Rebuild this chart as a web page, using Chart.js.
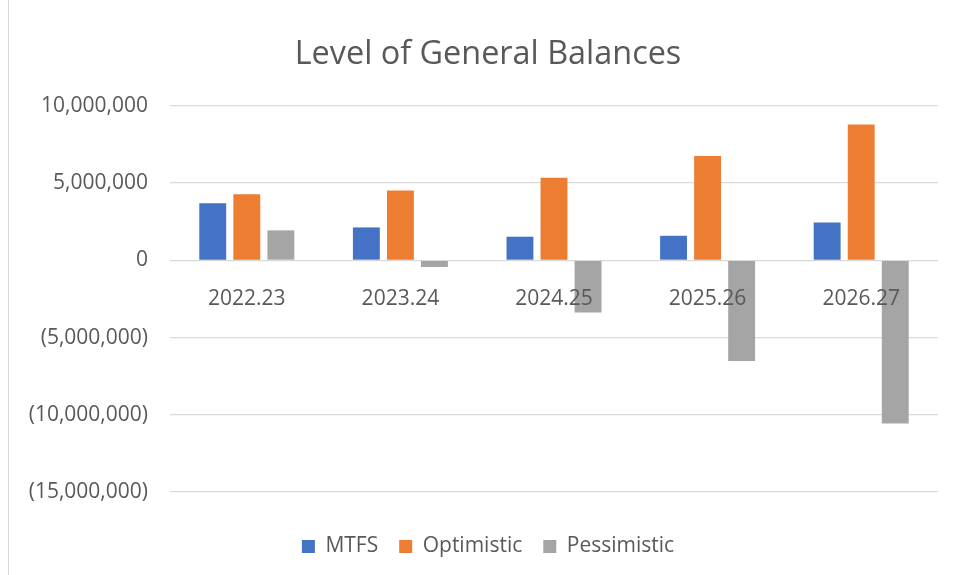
<!DOCTYPE html>
<html>
<head>
<meta charset="utf-8">
<script src="https://cdn.jsdelivr.net/npm/chart.js@4"></script>
<style>
  html, body { margin: 0; padding: 0; background: #fff; overflow: hidden; }
  #wrap { position: relative; width: 954px; height: 575px; overflow: hidden; }
  #edge { position: absolute; left: 8px; top: 0; width: 1px; height: 575px; background: #d9d9d9; }
</style>
</head>
<body>
<div id="wrap">
  <canvas id="balanceChart" width="956" height="575"></canvas>
  <div id="edge"></div>
</div>
<script>
// --- DATA ---
const categories = ['2022.23', '2023.24', '2024.25', '2025.26', '2026.27'];
const mtfsValues = [3700000, 2130000, 1530000, 1590000, 2450000];
const optimisticValues = [4280000, 4520000, 5350000, 6750000, 8800000];
const pessimisticValues = [1940000, -430000, -3380000, -6520000, -10560000];
const yTicks = [10000000, 5000000, 0, -5000000, -10000000, -15000000];

const textColor = '#595959';
const fontFamily = "'Open Sans', sans-serif";

// Excel style: 5,000,000 / (5,000,000)
function formatNumber(v) {
    const s = Math.abs(v).toLocaleString('en-US');
    return v < 0 ? '(' + s + ')' : s;
}

const ctx = document.getElementById('balanceChart');
new Chart(ctx, {
    type: 'bar',
    data: {
        labels: categories,
        datasets: [
            { label: 'MTFS', data: mtfsValues, backgroundColor: '#4472C4' },
            { label: 'Optimistic', data: optimisticValues, backgroundColor: '#ED7D31' },
            { label: 'Pessimistic', data: pessimisticValues, backgroundColor: '#A5A5A5' }
        ]
    },
    options: {
        responsive: false,
        animation: false,
        datasets: { bar: { categoryPercentage: 0.665, barPercentage: 0.79 } },
        layout: { padding: { left: 20, right: 0, top: 0, bottom: 8 } },
        plugins: {
            title: {
                display: true,
                text: 'Level of General Balances',
                color: textColor,
                font: { family: fontFamily, size: 32.4, weight: 'normal' },
                padding: { top: 35, bottom: 32 }
            },
            legend: {
                position: 'bottom',
                title: { display: true, text: '', font: { size: 10 }, padding: 5.5 },
                labels: {
                    color: textColor,
                    boxWidth: 13,
                    boxHeight: 13,
                    padding: 21,
                    font: { family: fontFamily, size: 21 }
                }
            },
            tooltip: { enabled: false }
        },
        scales: {
            x: {
                position: { y: 0 },
                grid: { display: false },
                border: { display: false },
                ticks: { z: 1, color: textColor, padding: 18, font: { family: fontFamily, size: 21 } }
            },
            y: {
                min: -15000000,
                max: 10000000,
                afterFit: function(scale) { scale.width = 150; },
                afterBuildTicks: function(scale) { scale.ticks = yTicks.map(v => ({ value: v })); },
                grid: { color: '#d9d9d9', lineWidth: 1.3, drawTicks: false },
                border: { display: false },
                ticks: {
                    color: textColor,
                    padding: 22,
                    font: { family: fontFamily, size: 21 },
                    callback: function(value) { return formatNumber(value); }
                }
            },
            // empty right margin so the plot ends where the original does
            yRight: {
                position: 'right',
                afterFit: function(scale) { scale.width = 18; },
                grid: { display: false },
                border: { display: false },
                ticks: { display: false }
            }
        }
    }
});
</script>
</body>
</html>
